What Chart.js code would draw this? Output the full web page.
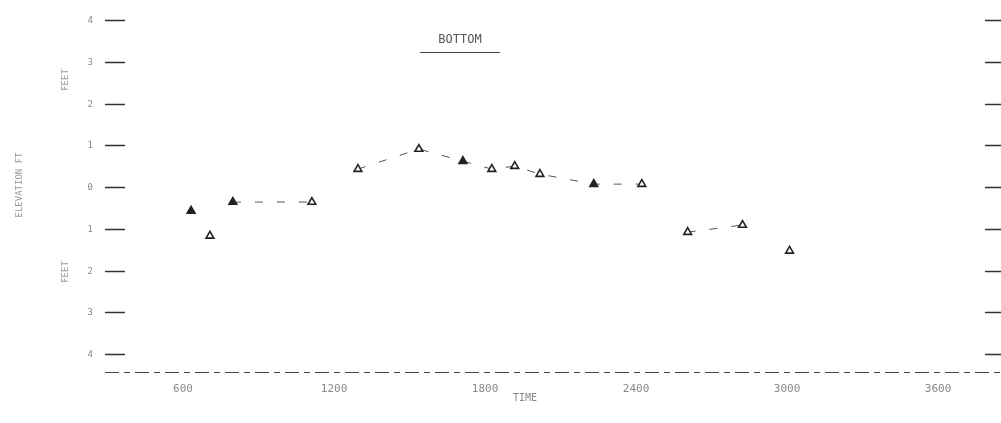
<!DOCTYPE html>
<html>
<head>
<meta charset="utf-8">
<script src="https://cdn.jsdelivr.net/npm/chart.js@4"></script>
<style>
  html, body { margin: 0; padding: 0; background: #fff; }
  #wrap { width: 1001px; height: 423px; position: relative; }
</style>
</head>
<body>
<div id="wrap"><canvas id="chart" width="1001" height="423"></canvas></div>
<script>
// Survey time and bottom change values
const times = [644, 719, 810, 1124, 1307, 1549, 1724, 1839, 1930, 2030, 2244, 2435, 2617, 2835, 3022];
const changes = [-0.57, -1.17, -0.36, -0.36, 0.43, 0.91, 0.62, 0.43, 0.50, 0.31, 0.07, 0.07, -1.08, -0.91, -1.53];
const xTicks = [600, 1200, 1800, 2400, 3000, 3600];
const yTicks = [4, 3, 2, 1, 0, -1, -2, -3, -4];
const yTickLabels = ['4', '3', '2', '1', '0', '1', '2', '3', '4'];

// segments that are drawn (start index of each joined pair)
const joined = [2, 4, 5, 6, 7, 8, 9, 10, 12];
const filled = [0, 2, 6, 10];

const ink = '#222';
const faint = '#888';

const paperPlugin = {
    id: 'paper',
    afterDraw(chart) {
        const ctx = chart.ctx;
        const x = chart.scales.x;
        const y = chart.scales.y;
        const area = chart.chartArea;
        ctx.save();

        // tick marks on both sides
        ctx.strokeStyle = '#333';
        ctx.lineWidth = 1.3;
        yTicks.forEach((v, i) => {
            const py = Math.round(y.getPixelForValue(v)) + 0.5;
            ctx.beginPath();
            ctx.moveTo(area.left, py);
            ctx.lineTo(area.left + 20, py);
            ctx.moveTo(area.right - 16, py);
            ctx.lineTo(area.right, py);
            ctx.stroke();
            ctx.fillStyle = faint;
            ctx.font = '9px "DejaVu Sans Mono"';
            ctx.textAlign = 'right';
            ctx.textBaseline = 'middle';
            ctx.fillText(yTickLabels[i], area.left - 12, py);
        });

        // bottom axis, dashed
        ctx.strokeStyle = '#444';
        ctx.lineWidth = 1;
        ctx.setLineDash([14, 5, 6, 5]);
        ctx.beginPath();
        ctx.moveTo(area.left, area.bottom + 0.5);
        ctx.lineTo(area.right, area.bottom + 0.5);
        ctx.stroke();
        ctx.setLineDash([]);

        // x tick labels
        ctx.fillStyle = faint;
        ctx.font = '11px "DejaVu Sans Mono"';
        ctx.textAlign = 'center';
        ctx.textBaseline = 'middle';
        xTicks.forEach(v => {
            ctx.fillText(String(v), x.getPixelForValue(v) + 3, area.bottom + 17);
        });
        ctx.font = '10px "DejaVu Sans Mono"';
        ctx.fillText('TIME', 525, area.bottom + 26);

        // title
        ctx.fillStyle = '#555';
        ctx.font = '12px "DejaVu Sans Mono"';
        ctx.fillText('BOTTOM', 460, 40);
        ctx.strokeStyle = '#444';
        ctx.beginPath();
        ctx.moveTo(420, 52.5);
        ctx.lineTo(500, 52.5);
        ctx.stroke();

        // rotated side labels
        ctx.fillStyle = '#999';
        ctx.font = '9px "DejaVu Sans Mono"';
        const rot = (txt, px, py) => {
            ctx.save();
            ctx.translate(px, py);
            ctx.rotate(-Math.PI / 2);
            ctx.fillText(txt, 0, 0);
            ctx.restore();
        };
        rot('FEET', 66, 80);
        rot('ELEVATION FT', 20, 185);
        rot('FEET', 66, 272);
        ctx.restore();
    }
};

new Chart(document.getElementById('chart'), {
    type: 'line',
    data: {
        datasets: [{
            data: times.map((t, i) => ({ x: t, y: changes[i] })),
            borderColor: '#555',
            borderWidth: 1,
            borderDash: [8, 14],
            pointStyle: 'triangle',
            pointRadius: 4.5,
            pointBorderWidth: 1.6,
            pointBorderColor: ink,
            pointBackgroundColor: times.map((t, i) => filled.includes(i) ? ink : '#fff'),
            segment: {
                borderColor: c => joined.includes(c.p0DataIndex) ? '#555' : 'rgba(0,0,0,0)'
            },
            tension: 0
        }]
    },
    options: {
        responsive: false,
        animation: false,
        layout: { autoPadding: false, padding: { left: 105, right: 0, top: 0, bottom: 51 } },
        plugins: { legend: { display: false }, tooltip: { enabled: false } },
        scales: {
            x: { type: 'linear', min: 302, max: 3862, display: false },
            y: { type: 'linear', min: -4.43, max: 4.48, display: false }
        }
    },
    plugins: [paperPlugin]
});
</script>
</body>
</html>
